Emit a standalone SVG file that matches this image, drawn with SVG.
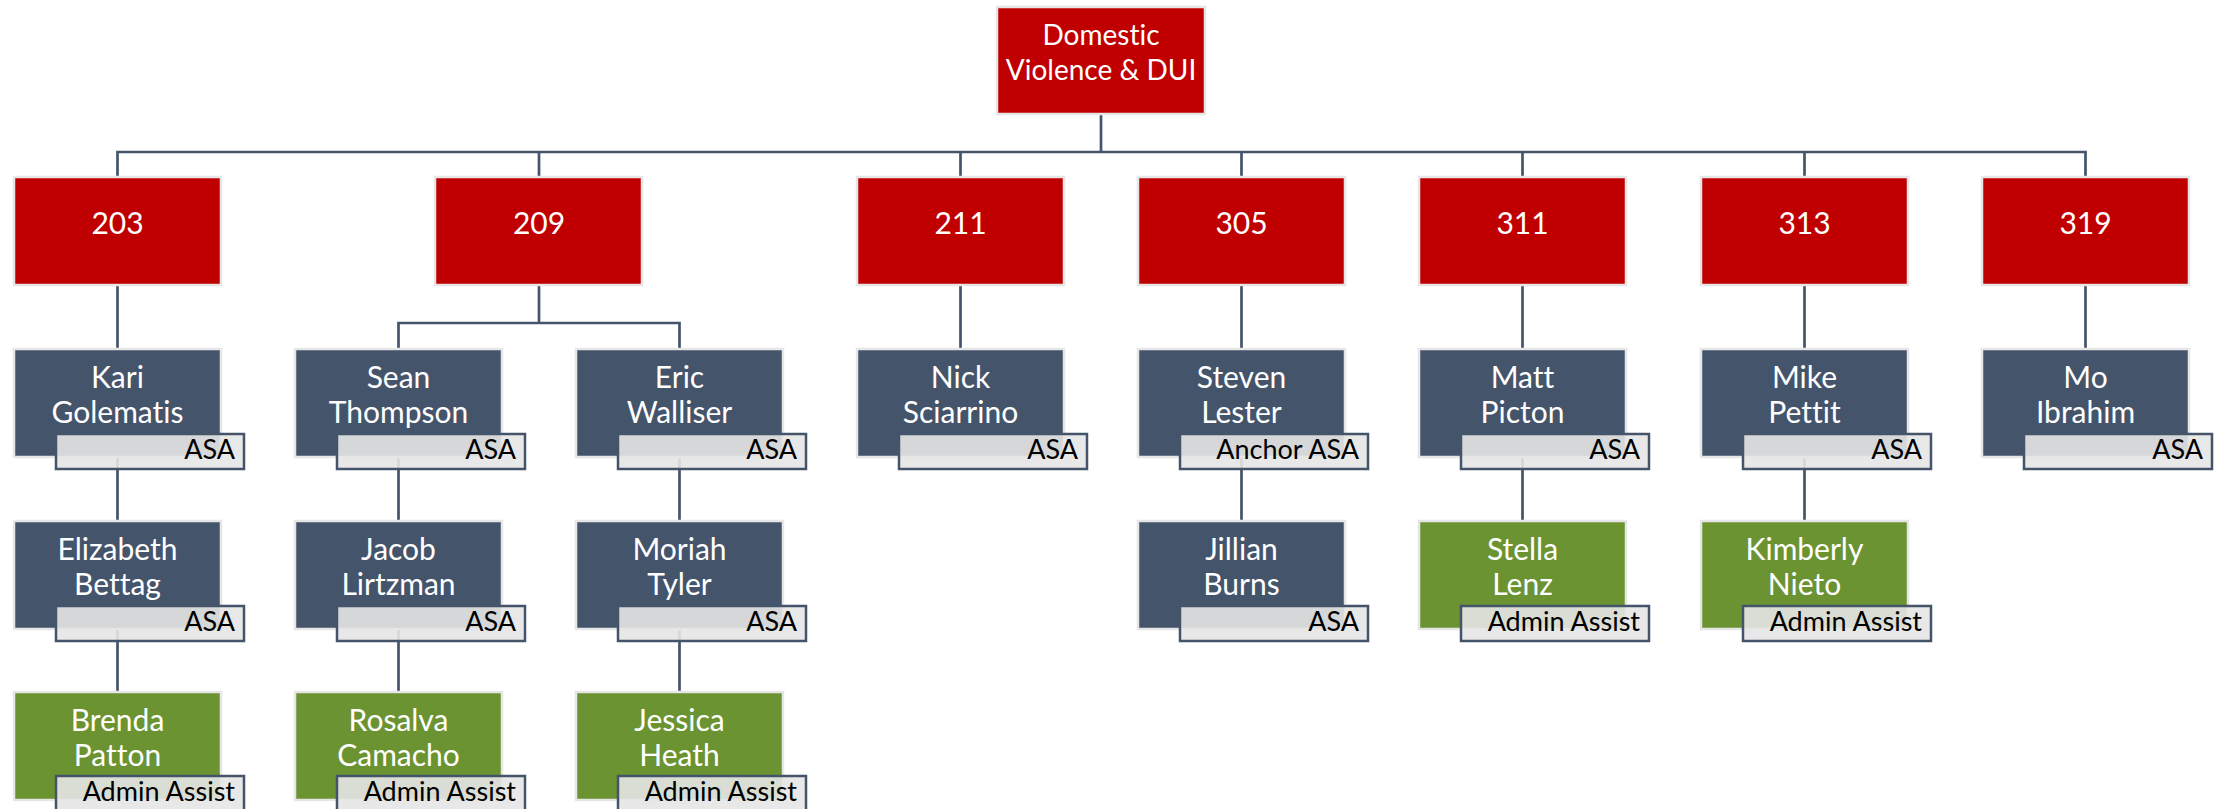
<svg xmlns="http://www.w3.org/2000/svg" width="2221" height="809" viewBox="0 0 2221 809">
  <style>
    .box { stroke: #e7e6e6; stroke-width: 2.5; }
    .red { fill: #c00000; }
    .slate { fill: #44546a; }
    .green { fill: #6b9331; }
    .badge { fill: #e6e6e6; fill-opacity: 0.9; stroke: #44546a; stroke-width: 2.5; }
    text { font-variant-ligatures: none; }
    .t { font-family: Lato, "Open Sans", "Liberation Sans", sans-serif; font-size: 30px; fill: #ffffff; text-anchor: middle; }
    .top { font-size: 28px; }
    .bt { font-family: Lato, "Open Sans", "Liberation Sans", sans-serif; font-size: 27px; fill: #000000; text-anchor: end; }
    .conn { stroke: #44546a; stroke-width: 2.7; fill: none; }
  </style>
  <rect width="2221" height="809" fill="#ffffff"/>

  <!-- connectors -->
  <g id="connectors" class="conn">
    <path d="M1101 115 V152"/>
    <path d="M117.5 176 V152 H2085.5 V176"/>
    <path d="M539 152 V176 M960.5 152 V176 M1241.5 152 V176 M1522.5 152 V176 M1804.5 152 V176"/>
    <!-- units to attorneys -->
    <path d="M117.5 286 V348"/>
    <path d="M539 286 V323 M398.5 348 V323 H679.5 V348"/>
    <path d="M960.5 286 V348 M1241.5 286 V348 M1522.5 286 V348 M1804.5 286 V348 M2085.5 286 V348"/>
    <!-- second row to third row -->
    <path d="M117.5 457 V520 M398.5 457 V520 M679.5 457 V520 M1241.5 457 V520 M1522.5 457 V520 M1804.5 457 V520"/>
    <!-- third row to fourth row -->
    <path d="M117.5 629 V691 M398.5 629 V691 M679.5 629 V691"/>
  </g>

  <!-- division -->
  <g id="dv-dui">
    <rect class="box red" x="997" y="7" width="208" height="107"/>
    <text class="t top" x="1101" y="45">Domestic</text>
    <text class="t top" x="1101" y="80">Violence &amp; DUI</text>
  </g>

  <!-- courtrooms -->
  <g id="unit-203"><rect class="box red" x="14" y="177" width="207" height="108"/><text class="t" x="117.5" y="234">203</text></g>
  <g id="unit-209"><rect class="box red" x="435" y="177" width="207" height="108"/><text class="t" x="539" y="234">209</text></g>
  <g id="unit-211"><rect class="box red" x="857" y="177" width="207" height="108"/><text class="t" x="960.5" y="234">211</text></g>
  <g id="unit-305"><rect class="box red" x="1138" y="177" width="207" height="108"/><text class="t" x="1241.5" y="234">305</text></g>
  <g id="unit-311"><rect class="box red" x="1419" y="177" width="207" height="108"/><text class="t" x="1522.5" y="234">311</text></g>
  <g id="unit-313"><rect class="box red" x="1701" y="177" width="207" height="108"/><text class="t" x="1804.5" y="234">313</text></g>
  <g id="unit-319"><rect class="box red" x="1982" y="177" width="207" height="108"/><text class="t" x="2085.5" y="234">319</text></g>

  <!-- staff, row 2 -->
  <g id="kari-golematis">
    <rect class="box slate" x="14" y="349" width="207" height="108"/>
    <text class="t" x="117.5" y="388">Kari</text><text class="t" x="117.5" y="422.5">Golematis</text>
    <rect class="badge" x="56" y="434" width="188" height="35"/><text class="bt" x="235" y="459">ASA</text>
  </g>
  <g id="sean-thompson">
    <rect class="box slate" x="295" y="349" width="207" height="108"/>
    <text class="t" x="398.5" y="388">Sean</text><text class="t" x="398.5" y="422.5">Thompson</text>
    <rect class="badge" x="337" y="434" width="188" height="35"/><text class="bt" x="516" y="459">ASA</text>
  </g>
  <g id="eric-walliser">
    <rect class="box slate" x="576" y="349" width="207" height="108"/>
    <text class="t" x="679.5" y="388">Eric</text><text class="t" x="679.5" y="422.5">Walliser</text>
    <rect class="badge" x="618" y="434" width="188" height="35"/><text class="bt" x="797" y="459">ASA</text>
  </g>
  <g id="nick-sciarrino">
    <rect class="box slate" x="857" y="349" width="207" height="108"/>
    <text class="t" x="960.5" y="388">Nick</text><text class="t" x="960.5" y="422.5">Sciarrino</text>
    <rect class="badge" x="899" y="434" width="188" height="35"/><text class="bt" x="1078" y="459">ASA</text>
  </g>
  <g id="steven-lester">
    <rect class="box slate" x="1138" y="349" width="207" height="108"/>
    <text class="t" x="1241.5" y="388">Steven</text><text class="t" x="1241.5" y="422.5">Lester</text>
    <rect class="badge" x="1180" y="434" width="188" height="35"/><text class="bt" x="1359" y="459">Anchor ASA</text>
  </g>
  <g id="matt-picton">
    <rect class="box slate" x="1419" y="349" width="207" height="108"/>
    <text class="t" x="1522.5" y="388">Matt</text><text class="t" x="1522.5" y="422.5">Picton</text>
    <rect class="badge" x="1461" y="434" width="188" height="35"/><text class="bt" x="1640" y="459">ASA</text>
  </g>
  <g id="mike-pettit">
    <rect class="box slate" x="1701" y="349" width="207" height="108"/>
    <text class="t" x="1804.5" y="388">Mike</text><text class="t" x="1804.5" y="422.5">Pettit</text>
    <rect class="badge" x="1743" y="434" width="188" height="35"/><text class="bt" x="1922" y="459">ASA</text>
  </g>
  <g id="mo-ibrahim">
    <rect class="box slate" x="1982" y="349" width="207" height="108"/>
    <text class="t" x="2085.5" y="388">Mo</text><text class="t" x="2085.5" y="422.5">Ibrahim</text>
    <rect class="badge" x="2024" y="434" width="188" height="35"/><text class="bt" x="2203" y="459">ASA</text>
  </g>

  <!-- staff, row 3 -->
  <g id="elizabeth-bettag">
    <rect class="box slate" x="14" y="521" width="207" height="108"/>
    <text class="t" x="117.5" y="560">Elizabeth</text><text class="t" x="117.5" y="594.5">Bettag</text>
    <rect class="badge" x="56" y="606" width="188" height="35"/><text class="bt" x="235" y="631">ASA</text>
  </g>
  <g id="jacob-lirtzman">
    <rect class="box slate" x="295" y="521" width="207" height="108"/>
    <text class="t" x="398.5" y="560">Jacob</text><text class="t" x="398.5" y="594.5">Lirtzman</text>
    <rect class="badge" x="337" y="606" width="188" height="35"/><text class="bt" x="516" y="631">ASA</text>
  </g>
  <g id="moriah-tyler">
    <rect class="box slate" x="576" y="521" width="207" height="108"/>
    <text class="t" x="679.5" y="560">Moriah</text><text class="t" x="679.5" y="594.5">Tyler</text>
    <rect class="badge" x="618" y="606" width="188" height="35"/><text class="bt" x="797" y="631">ASA</text>
  </g>
  <g id="jillian-burns">
    <rect class="box slate" x="1138" y="521" width="207" height="108"/>
    <text class="t" x="1241.5" y="560">Jillian</text><text class="t" x="1241.5" y="594.5">Burns</text>
    <rect class="badge" x="1180" y="606" width="188" height="35"/><text class="bt" x="1359" y="631">ASA</text>
  </g>
  <g id="stella-lenz">
    <rect class="box green" x="1419" y="521" width="207" height="108"/>
    <text class="t" x="1522.5" y="560">Stella</text><text class="t" x="1522.5" y="594.5">Lenz</text>
    <rect class="badge" x="1461" y="606" width="188" height="35"/><text class="bt" x="1640" y="631">Admin Assist</text>
  </g>
  <g id="kimberly-nieto">
    <rect class="box green" x="1701" y="521" width="207" height="108"/>
    <text class="t" x="1804.5" y="560">Kimberly</text><text class="t" x="1804.5" y="594.5">Nieto</text>
    <rect class="badge" x="1743" y="606" width="188" height="35"/><text class="bt" x="1922" y="631">Admin Assist</text>
  </g>

  <!-- staff, row 4 -->
  <g id="brenda-patton">
    <rect class="box green" x="14" y="692" width="207" height="108"/>
    <text class="t" x="117.5" y="731">Brenda</text><text class="t" x="117.5" y="765.5">Patton</text>
    <rect class="badge" x="56" y="776" width="188" height="35"/><text class="bt" x="235" y="801">Admin Assist</text>
  </g>
  <g id="rosalva-camacho">
    <rect class="box green" x="295" y="692" width="207" height="108"/>
    <text class="t" x="398.5" y="731">Rosalva</text><text class="t" x="398.5" y="765.5">Camacho</text>
    <rect class="badge" x="337" y="776" width="188" height="35"/><text class="bt" x="516" y="801">Admin Assist</text>
  </g>
  <g id="jessica-heath">
    <rect class="box green" x="576" y="692" width="207" height="108"/>
    <text class="t" x="679.5" y="731">Jessica</text><text class="t" x="679.5" y="765.5">Heath</text>
    <rect class="badge" x="618" y="776" width="188" height="35"/><text class="bt" x="797" y="801">Admin Assist</text>
  </g>
</svg>
